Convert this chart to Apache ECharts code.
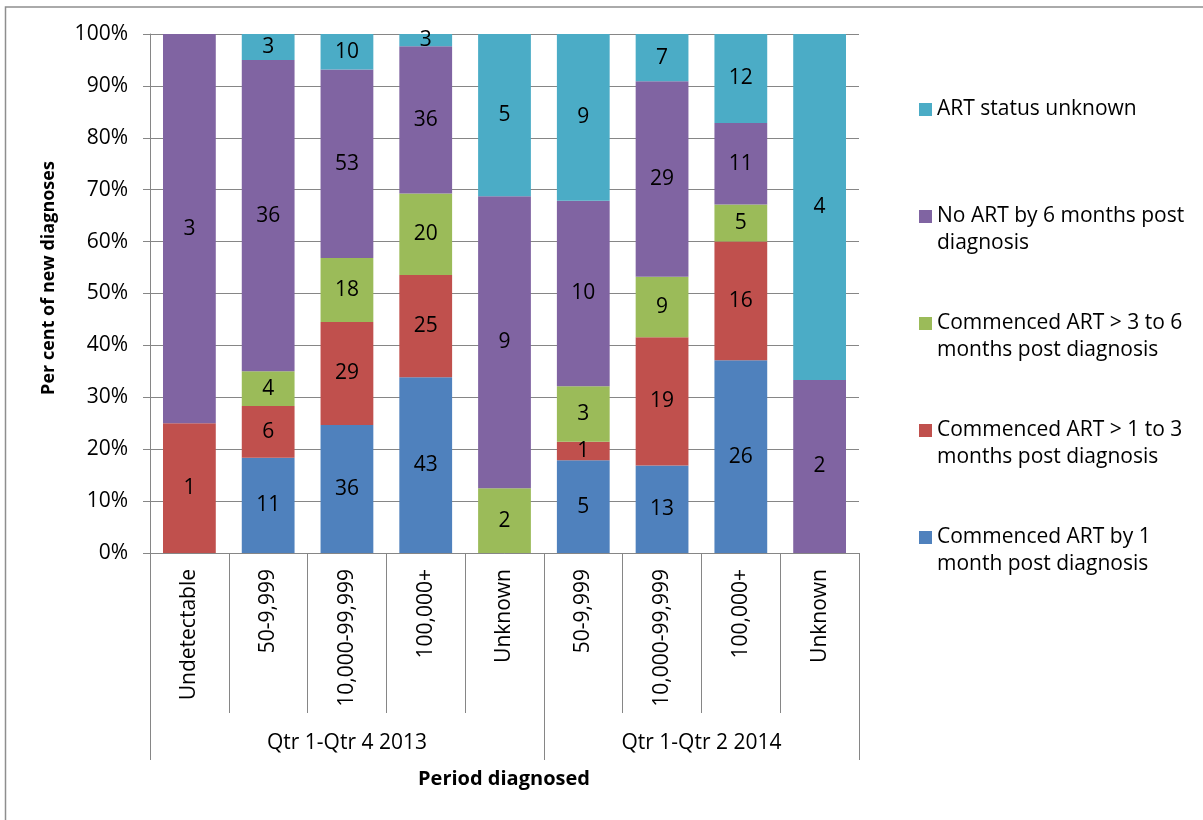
<!DOCTYPE html>
<html>
<head>
<meta charset="utf-8">
<script src="https://cdn.jsdelivr.net/npm/echarts@6/dist/echarts.min.js"></script>
<style>
  html, body { margin: 0; padding: 0; background: #fff; }
  #chart { width: 1203px; height: 820px; }
</style>
</head>
<body>
<div id="chart"></div>
<script>
// Viral load categories, grouped by diagnosis period
const categories = ['Undetectable', '50-9,999', '10,000-99,999', '100,000+', 'Unknown',
                    '50-9,999', '10,000-99,999', '100,000+', 'Unknown'];
const groups = ['Qtr 1-Qtr 4 2013', 'Qtr 1-Qtr 2 2014'];
const groupSizes = [5, 4];

// Number of new diagnoses in each ART status
const artBy1Month   = [0, 11, 36, 43, 0, 5, 13, 26, 0];
const art1to3Months = [1, 6, 29, 25, 0, 1, 19, 16, 0];
const art3to6Months = [0, 4, 18, 20, 2, 3, 9, 5, 0];
const noArt6Months  = [3, 36, 53, 36, 9, 10, 29, 11, 2];
const artUnknown    = [0, 3, 10, 3, 5, 9, 7, 12, 4];

const yTicks = [0, 10, 20, 30, 40, 50, 60, 70, 80, 90, 100];

const FONT = 'Open Sans';
const FS = 21;
const GREY = '#868686';

const seriesDefs = [
  { name: 'Commenced ART by 1 month post diagnosis', wrapped: 'Commenced ART by 1\nmonth post diagnosis', counts: artBy1Month, color: '#4F81BD' },
  { name: 'Commenced ART > 1 to 3 months post diagnosis', wrapped: 'Commenced ART > 1 to 3\nmonths post diagnosis', counts: art1to3Months, color: '#C0504D' },
  { name: 'Commenced ART > 3 to 6 months post diagnosis', wrapped: 'Commenced ART > 3 to 6\nmonths post diagnosis', counts: art3to6Months, color: '#9BBB59' },
  { name: 'No ART by 6 months post diagnosis', wrapped: 'No ART by 6 months post\ndiagnosis', counts: noArt6Months, color: '#8064A2' },
  { name: 'ART status unknown', wrapped: 'ART status unknown', counts: artUnknown, color: '#4BACC6' }
];

// Column totals for the 100% stack
const totals = categories.map((_, i) => seriesDefs.reduce((s, d) => s + d.counts[i], 0));

const wrappedByName = {};
seriesDefs.forEach(d => {
  // pad to three lines so the marker sits beside the first text line
  const lines = d.wrapped.split('\n');
  wrappedByName[d.name] = lines.length === 1 ? ' \n' + lines[0] + '\n ' : ' \n' + lines.join('\n');
});

// Group boundaries and midpoints along the category axis
const groupEdges = [0];
const groupMids = [];
groupSizes.forEach(n => {
  const start = groupEdges[groupEdges.length - 1];
  groupMids.push(start + n / 2);
  groupEdges.push(start + n);
});

const series = seriesDefs.map(d => ({
  name: d.name,
  type: 'bar',
  stack: 'share',
  barCategoryGap: '33%',
  xAxisIndex: 0,
  itemStyle: { color: d.color },
  label: {
    show: true,
    position: 'inside',
    color: '#000',
    fontFamily: FONT,
    fontSize: FS,
    formatter: p => (d.counts[p.dataIndex] > 0 ? String(d.counts[p.dataIndex]) : '')
  },
  data: d.counts.map((c, i) => (c > 0 ? (c / totals[i]) * 100 : null))
}));

const chart = echarts.init(document.getElementById('chart'), null, { renderer: 'canvas' });
chart.setOption({
  animation: false,
  backgroundColor: '#fff',
  textStyle: { fontFamily: FONT },
  grid: { left: 150, right: 344, top: 34, bottom: 267, containLabel: false },
  legend: {
    orient: 'vertical',
    left: 914,
    top: 64,
    itemWidth: 13,
    itemHeight: 13,
    itemGap: 26,
    icon: 'rect',
    data: seriesDefs.map(d => d.name).reverse(),
    formatter: name => wrappedByName[name],
    textStyle: { fontFamily: FONT, fontSize: FS, color: '#000', lineHeight: 27 }
  },
  xAxis: [
    {
      type: 'category',
      data: categories,
      position: 'bottom',
      axisLine: { show: true, lineStyle: { color: GREY, width: 1 } },
      axisTick: { show: true, interval: 0, length: 160, lineStyle: { color: GREY } },
      axisLabel: {
        interval: 0,
        rotate: 90,
        margin: 16,
        color: '#000',
        fontFamily: FONT,
        fontSize: FS
      },
      splitLine: { show: false }
    },
    {
      type: 'value',
      min: 0,
      max: categories.length,
      position: 'bottom',
      axisLine: { show: false },
      splitLine: { show: false },
      axisTick: { show: true, customValues: groupEdges, length: 207, lineStyle: { color: GREY } },
      axisLabel: {
        customValues: groupMids,
        margin: 180,
        color: '#000',
        fontFamily: FONT,
        fontSize: FS,
        formatter: v => groups[groupMids.indexOf(v)] || ''
      }
    }
  ],
  yAxis: {
    type: 'value',
    min: yTicks[0],
    max: yTicks[yTicks.length - 1],
    interval: yTicks[1] - yTicks[0],
    axisLine: { show: true, lineStyle: { color: GREY } },
    axisTick: { show: true, length: 7, lineStyle: { color: GREY } },
    axisLabel: { margin: 22, color: '#000', fontFamily: FONT, fontSize: FS, formatter: '{value}%' },
    splitLine: { show: true, lineStyle: { color: GREY, width: 1 } }
  },
  graphic: [
    {
      type: 'rect',
      shape: { x: 5.5, y: 7, width: 1300, height: 900 },
      style: { fill: 'none', stroke: '#8e8e8e', lineWidth: 1.5 },
      silent: true
    },
    {
      type: 'text',
      x: 49,
      y: 278,
      rotation: Math.PI / 2,
      style: {
        text: 'Per cent of new diagnoses',
        fontFamily: FONT,
        fontSize: 18,
        fontWeight: 'bold',
        fill: '#000',
        align: 'center',
        verticalAlign: 'middle'
      }
    },
    {
      type: 'text',
      x: 504,
      y: 779,
      style: {
        text: 'Period diagnosed',
        fontFamily: FONT,
        fontSize: 20,
        fontWeight: 'bold',
        fill: '#000',
        align: 'center',
        verticalAlign: 'middle'
      }
    }
  ],
  series: series
});
</script>
</body>
</html>
